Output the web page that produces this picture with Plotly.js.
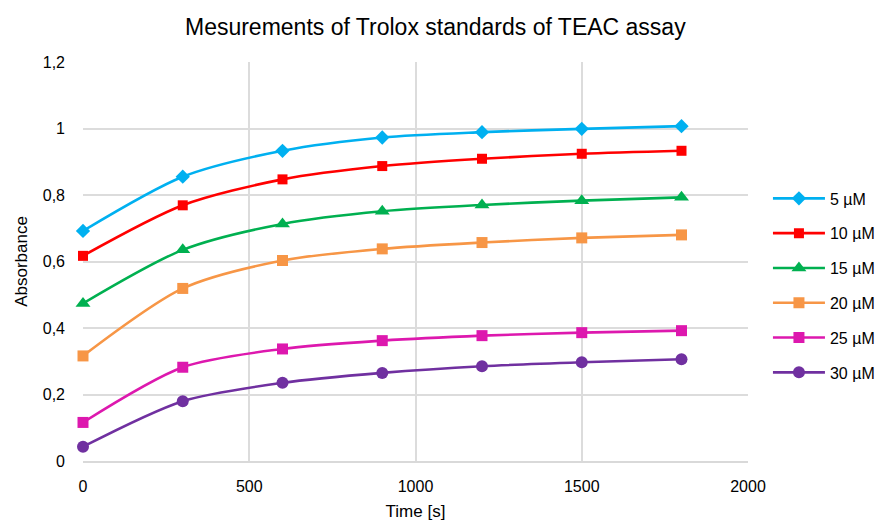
<!DOCTYPE html>
<html>
<head>
<meta charset="utf-8">
<script src="https://cdn.plot.ly/plotly-3.0.1.min.js"></script>
<style>
  html, body { margin: 0; padding: 0; background: #fff; }
  #chart { width: 883px; height: 523px; }
</style>
</head>
<body>
<div id="chart"></div>
<script>
// Time points of the measurements (s)
const timeS = [0, 300, 600, 900, 1200, 1500, 1800];

// Absorbance of each Trolox standard over time
const abs5uM  = [0.692, 0.855, 0.933, 0.973, 0.989, 0.999, 1.007];
const abs10uM = [0.617, 0.769, 0.847, 0.887, 0.909, 0.924, 0.933];
const abs15uM = [0.474, 0.635, 0.713, 0.751, 0.770, 0.783, 0.793];
const abs20uM = [0.316, 0.519, 0.603, 0.638, 0.657, 0.671, 0.680];
const abs25uM = [0.116, 0.282, 0.337, 0.362, 0.377, 0.386, 0.392];
const abs30uM = [0.043, 0.180, 0.235, 0.265, 0.285, 0.297, 0.306];

const seriesNames = ['5 µM', '10 µM', '15 µM', '20 µM', '25 µM', '30 µM'];
const seriesValues = [abs5uM, abs10uM, abs15uM, abs20uM, abs25uM, abs30uM];
const seriesColors = ['#00B0F0', '#FF0000', '#00B050', '#F79646', '#DD18AE', '#7030A0'];
const seriesSymbols = ['diamond', 'square', 'triangle-up', 'square', 'square', 'circle'];
const seriesSizes = [11, 10, 13, 11, 11, 12];

const FONT = '"Liberation Sans Narrow", "Arial Narrow", "Liberation Sans", Arial, sans-serif';

const traces = seriesNames.map((name, i) => ({
  type: 'scatter',
  mode: 'lines+markers',
  name: name,
  x: timeS,
  y: seriesValues[i],
  legendgroup: 'g' + i,
  line: { color: seriesColors[i], width: 2.6, shape: 'spline', smoothing: 0.8 },
  marker: { color: seriesColors[i], symbol: seriesSymbols[i], size: seriesSizes[i] },
  cliponaxis: false
}));

const layout = {
  width: 883,
  height: 523,
  margin: { l: 83, r: 135, t: 62, b: 62, autoexpand: false },
  paper_bgcolor: '#ffffff',
  plot_bgcolor: '#ffffff',
  separators: ',.',
  font: { family: FONT, color: '#000000', size: 16 },
  title: {
    text: 'Mesurements of Trolox standards of TEAC assay',
    font: { family: FONT, size: 23, color: '#000000' },
    x: 0.493, xanchor: 'center',
    y: 0.948, yanchor: 'middle'
  },
  xaxis: {
    range: [0, 2000],
    dtick: 500,
    tick0: 0,
    showgrid: true,
    gridcolor: '#DCDCDC',
    gridwidth: 2,
    zeroline: false,
    showline: true,
    linecolor: '#D9D9D9',
    linewidth: 2,
    ticks: '',
    ticklabelstandoff: 10,
    tickfont: { family: FONT, size: 16, color: '#000000' },
    title: { text: 'Time [s]', font: { family: FONT, size: 17, color: '#000000' }, standoff: 11 }
  },
  yaxis: {
    range: [0, 1.2],
    dtick: 0.2,
    tick0: 0,
    showgrid: true,
    gridcolor: '#DCDCDC',
    gridwidth: 2,
    zeroline: false,
    showline: false,
    ticks: '',
    ticklabelstandoff: 17,
    tickfont: { family: FONT, size: 16, color: '#000000' },
    title: { text: 'Absorbance', font: { family: FONT, size: 17, color: '#000000' }, standoff: 10 }
  },
  showlegend: true,
  legend: {
    x: 1.03, xanchor: 'left',
    y: 0.44, yanchor: 'middle',
    traceorder: 'grouped',
    tracegroupgap: 11,
    itemwidth: 52,
    font: { family: FONT, size: 16, color: '#000000' },
    bgcolor: 'rgba(0,0,0,0)'
  }
};

Plotly.newPlot('chart', traces, layout, { displayModeBar: false, staticPlot: true });
</script>
</body>
</html>
